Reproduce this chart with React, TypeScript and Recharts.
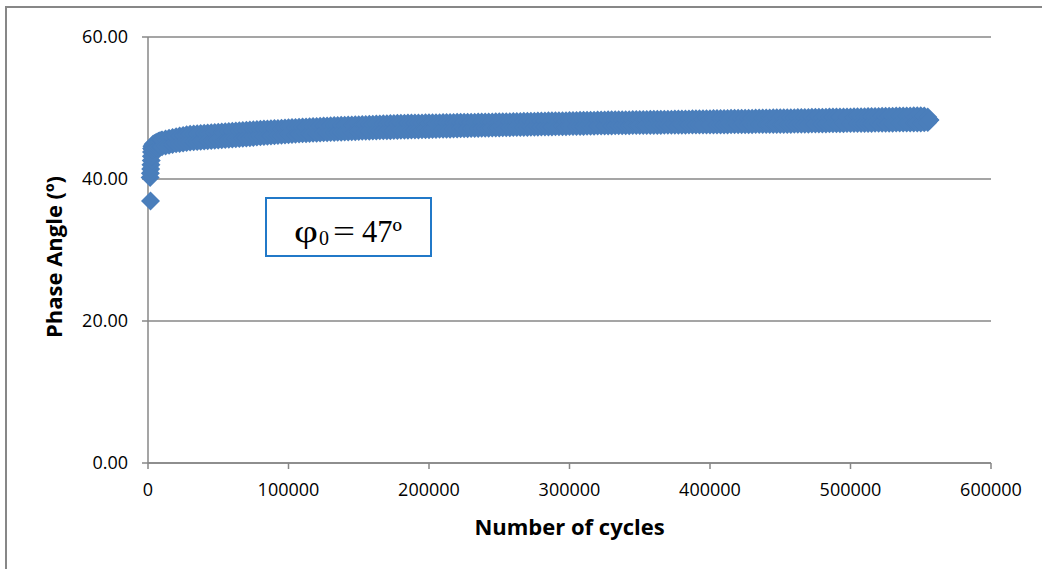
import React from 'react';
import { ScatterChart, Scatter, XAxis, YAxis, CartesianGrid } from 'recharts';

// Early (first few thousand cycles) readings, including the first outlier point
const earlyCycles = [
  1800, 1500, 1700, 1900, 2100, 2300, 2400, 2500, 2600, 2800,
  3200, 3600, 4000, 4500, 5000, 5500, 6000, 6500, 7000, 7500,
  8000, 8500, 9000, 9500,
];
const earlyPhase = [
  36.9, 40.2, 40.8, 41.4, 42.0, 42.6, 43.2, 43.8, 44.3, 44.6,
  44.2, 44.9, 44.3, 45.0, 44.4, 45.1, 44.45, 45.2, 44.5, 45.3,
  44.5, 45.4, 44.5, 45.45,
];

// Main body of readings: cycle count, upper and lower readings of the scatter band
const cycles = [
  10000, 12500, 15000, 17500, 20000, 22500, 25000, 27500, 30000, 32500,
  35000, 37500, 40000, 42500, 45000, 47500, 50000, 52500, 55000, 57500,
  60000, 62500, 65000, 67500, 70000, 72500, 75000, 77500, 80000, 82500,
  85000, 87500, 90000, 92500, 95000, 97500, 100000, 102500, 105000, 107500,
  110000, 112500, 115000, 117500, 120000, 122500, 125000, 127500, 130000, 132500,
  135000, 137500, 140000, 142500, 145000, 147500, 150000, 152500, 155000, 157500,
  160000, 162500, 165000, 167500, 170000, 172500, 175000, 177500, 180000, 182500,
  185000, 187500, 190000, 192500, 195000, 197500, 200000, 202500, 205000, 207500,
  210000, 212500, 215000, 217500, 220000, 222500, 225000, 227500, 230000, 232500,
  235000, 237500, 240000, 242500, 245000, 247500, 250000, 252500, 255000, 257500,
  260000, 262500, 265000, 267500, 270000, 272500, 275000, 277500, 280000, 282500,
  285000, 287500, 290000, 292500, 295000, 297500, 300000, 302500, 305000, 307500,
  310000, 312500, 315000, 317500, 320000, 322500, 325000, 327500, 330000, 332500,
  335000, 337500, 340000, 342500, 345000, 347500, 350000, 352500, 355000, 357500,
  360000, 362500, 365000, 367500, 370000, 372500, 375000, 377500, 380000, 382500,
  385000, 387500, 390000, 392500, 395000, 397500, 400000, 402500, 405000, 407500,
  410000, 412500, 415000, 417500, 420000, 422500, 425000, 427500, 430000, 432500,
  435000, 437500, 440000, 442500, 445000, 447500, 450000, 452500, 455000, 457500,
  460000, 462500, 465000, 467500, 470000, 472500, 475000, 477500, 480000, 482500,
  485000, 487500, 490000, 492500, 495000, 497500, 500000, 502500, 505000, 507500,
  510000, 512500, 515000, 517500, 520000, 522500, 525000, 527500, 530000, 532500,
  535000, 537500, 540000, 542500, 545000, 547500, 550000, 552500, 555000, 556500,
];
const phaseUpper = [
  45.5, 45.62, 45.73, 45.84, 45.95, 46.04, 46.13, 46.22, 46.3, 46.34,
  46.38, 46.42, 46.45, 46.49, 46.53, 46.56, 46.6, 46.63, 46.67, 46.7,
  46.73, 46.77, 46.8, 46.83, 46.87, 46.9, 46.93, 46.97, 47.0, 47.03,
  47.05, 47.08, 47.1, 47.13, 47.15, 47.18, 47.21, 47.24, 47.27, 47.3,
  47.32, 47.34, 47.36, 47.38, 47.41, 47.43, 47.45, 47.48, 47.5, 47.52,
  47.54, 47.56, 47.58, 47.6, 47.62, 47.63, 47.65, 47.67, 47.68, 47.7,
  47.71, 47.73, 47.75, 47.77, 47.79, 47.8, 47.82, 47.84, 47.85, 47.86,
  47.87, 47.87, 47.88, 47.89, 47.9, 47.91, 47.92, 47.93, 47.93, 47.94,
  47.95, 47.96, 47.96, 47.97, 47.98, 47.98, 47.99, 48.0, 48.0, 48.01,
  48.02, 48.02, 48.03, 48.04, 48.04, 48.05, 48.05, 48.06, 48.07, 48.08,
  48.09, 48.1, 48.11, 48.12, 48.13, 48.14, 48.15, 48.16, 48.17, 48.18,
  48.19, 48.19, 48.2, 48.21, 48.22, 48.22, 48.23, 48.24, 48.25, 48.26,
  48.27, 48.28, 48.28, 48.29, 48.3, 48.31, 48.32, 48.33, 48.33, 48.34,
  48.35, 48.35, 48.36, 48.36, 48.37, 48.38, 48.38, 48.39, 48.39, 48.4,
  48.4, 48.41, 48.41, 48.42, 48.43, 48.43, 48.44, 48.44, 48.45, 48.46,
  48.46, 48.47, 48.47, 48.48, 48.49, 48.49, 48.5, 48.51, 48.51, 48.52,
  48.52, 48.53, 48.54, 48.54, 48.55, 48.55, 48.56, 48.57, 48.57, 48.58,
  48.58, 48.59, 48.6, 48.6, 48.61, 48.61, 48.62, 48.63, 48.63, 48.64,
  48.64, 48.65, 48.65, 48.66, 48.67, 48.68, 48.69, 48.69, 48.7, 48.71,
  48.72, 48.72, 48.73, 48.74, 48.74, 48.75, 48.75, 48.76, 48.77, 48.78,
  48.78, 48.79, 48.8, 48.81, 48.82, 48.83, 48.83, 48.84, 48.85, 48.86,
  48.87, 48.87, 48.88, 48.89, 48.9, 48.9, 48.9, 48.88, 48.75, 48.3,
];
const phaseLower = [
  44.55, 44.65, 44.75, 44.85, 44.95, 45.01, 45.08, 45.14, 45.2, 45.24,
  45.28, 45.31, 45.35, 45.39, 45.43, 45.46, 45.5, 45.53, 45.57, 45.6,
  45.63, 45.67, 45.7, 45.74, 45.78, 45.82, 45.86, 45.9, 45.95, 45.98,
  46.02, 46.05, 46.08, 46.12, 46.15, 46.19, 46.23, 46.27, 46.31, 46.35,
  46.37, 46.39, 46.41, 46.44, 46.46, 46.48, 46.5, 46.52, 46.55, 46.56,
  46.58, 46.6, 46.62, 46.63, 46.65, 46.67, 46.7, 46.71, 46.72, 46.74,
  46.75, 46.76, 46.78, 46.79, 46.8, 46.81, 46.83, 46.84, 46.85, 46.86,
  46.88, 46.89, 46.9, 46.91, 46.92, 46.94, 46.95, 46.96, 46.97, 46.99,
  47.0, 47.01, 47.02, 47.04, 47.05, 47.06, 47.07, 47.09, 47.1, 47.11,
  47.12, 47.14, 47.15, 47.16, 47.17, 47.19, 47.2, 47.21, 47.22, 47.23,
  47.24, 47.25, 47.25, 47.26, 47.27, 47.28, 47.29, 47.3, 47.31, 47.32,
  47.33, 47.34, 47.35, 47.36, 47.36, 47.37, 47.38, 47.39, 47.4, 47.41,
  47.41, 47.42, 47.43, 47.44, 47.45, 47.45, 47.46, 47.47, 47.48, 47.49,
  47.5, 47.5, 47.51, 47.51, 47.52, 47.52, 47.52, 47.53, 47.53, 47.54,
  47.54, 47.55, 47.55, 47.56, 47.56, 47.56, 47.57, 47.57, 47.58, 47.58,
  47.59, 47.59, 47.59, 47.6, 47.6, 47.6, 47.6, 47.61, 47.61, 47.62,
  47.62, 47.62, 47.63, 47.63, 47.64, 47.64, 47.64, 47.65, 47.65, 47.66,
  47.66, 47.66, 47.67, 47.67, 47.68, 47.68, 47.68, 47.69, 47.69, 47.69,
  47.7, 47.7, 47.7, 47.71, 47.72, 47.73, 47.74, 47.74, 47.75, 47.76,
  47.77, 47.77, 47.78, 47.79, 47.79, 47.8, 47.8, 47.81, 47.81, 47.82,
  47.82, 47.83, 47.83, 47.84, 47.84, 47.85, 47.85, 47.86, 47.86, 47.87,
  47.87, 47.88, 47.88, 47.89, 47.89, 47.9, 47.9, 47.92, 47.95, 48.3,
];

const xTicks = [0, 100000, 200000, 300000, 400000, 500000, 600000];
const yTicks = [0, 20, 40, 60];

const xTitle = 'Number of cycles';
const yTitle = 'Phase Angle (º)';

const data: { cycles: number; phase: number }[] = [];
earlyCycles.forEach((c, i) => data.push({ cycles: c, phase: earlyPhase[i] }));
cycles.forEach((c, i) => {
  data.push({ cycles: c, phase: phaseUpper[i] });
  data.push({ cycles: c, phase: phaseLower[i] });
});

const MARKER = '#4A7EBB';
const GRID = '#878787';

const Diamond = (props: any) => {
  const { cx, cy } = props;
  if (cx == null || cy == null) return null;
  const r = 9.5;
  return (
    <polygon
      points={`${cx},${cy - r} ${cx + r},${cy} ${cx},${cy + r} ${cx - r},${cy}`}
      fill={MARKER}
    />
  );
};

const tickStyle = { fill: '#000', fontSize: 18, fontFamily: '"Open Sans", sans-serif' };

export default function App() {
  return (
    <div
      style={{
        position: 'absolute',
        left: 0,
        top: 0,
        width: 1042,
        height: 569,
        overflow: 'hidden',
        background: '#fff',
      }}
    >
      <div
        style={{
          position: 'absolute',
          left: 5,
          top: 6,
          width: 1200,
          height: 800,
          border: `2px solid ${GRID}`,
          boxSizing: 'border-box',
        }}
      />
      <div style={{ position: 'absolute', left: 0, top: 0 }}>
        <ScatterChart
          width={1042}
          height={569}
          margin={{ top: 37, right: 51, bottom: 66, left: 68 }}
        >
          <CartesianGrid vertical={false} stroke={GRID} strokeWidth={1.5} horizontalValues={yTicks} />
          <XAxis
            type="number"
            dataKey="cycles"
            domain={[0, 600000]}
            ticks={xTicks}
            interval={0}
            height={40}
            tickSize={6}
            tickMargin={14}
            tick={tickStyle}
            tickLine={{ stroke: GRID, strokeWidth: 1.5 }}
            axisLine={{ stroke: GRID, strokeWidth: 1.5 }}
          />
          <YAxis
            type="number"
            dataKey="phase"
            domain={[0, 60]}
            ticks={yTicks}
            interval={0}
            width={80}
            tickSize={6}
            tickMargin={14}
            tick={tickStyle}
            tickFormatter={(v: number) => v.toFixed(2)}
            tickLine={{ stroke: GRID, strokeWidth: 1.5 }}
            axisLine={{ stroke: GRID, strokeWidth: 1.5 }}
          />
          <Scatter data={data} fill={MARKER} isAnimationActive={false} shape={(p: any) => <Diamond {...p} />} />
        </ScatterChart>
      </div>
      <svg
        width={1042}
        height={569}
        style={{ position: 'absolute', left: 0, top: 0, pointerEvents: 'none' }}
      >
        <text
          x={569.5}
          y={535}
          textAnchor="middle"
          fontFamily='"Open Sans", sans-serif'
          fontWeight="bold"
          fontSize={22}
          fill="#000"
        >
          {xTitle}
        </text>
        <text
          x={62}
          y={257}
          transform="rotate(-90 62 257)"
          textAnchor="middle"
          fontFamily='"Open Sans", sans-serif'
          fontWeight="bold"
          fontSize={22}
          fill="#000"
        >
          {yTitle}
        </text>
        <rect x={266} y={198} width={165} height={58} fill="#fff" stroke="#2179C8" strokeWidth={2} />
        <text x={294} y={242} fontFamily='"Liberation Serif", serif' fontSize={31} fill="#000" textLength={24} lengthAdjust="spacingAndGlyphs">φ</text>
        <text x={319} y={245} fontFamily='"Liberation Serif", serif' fontSize={20} fill="#000">0</text>
        <text x={333} y={242} fontFamily='"Liberation Serif", serif' fontSize={31} fill="#000" textLength={22} lengthAdjust="spacingAndGlyphs">=</text>
        <text x={362} y={242} fontFamily='"Liberation Serif", serif' fontSize={31} fill="#000" textLength={40} lengthAdjust="spacingAndGlyphs">47º</text>
      </svg>
    </div>
  );
}
